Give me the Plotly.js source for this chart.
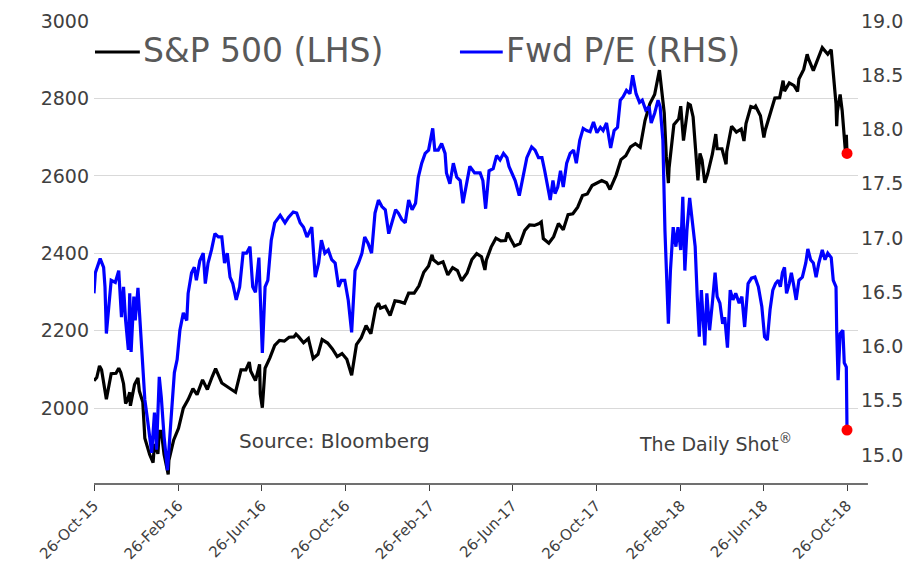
<!DOCTYPE html>
<html>
<head>
<meta charset="utf-8">
<script src="https://cdn.plot.ly/plotly-3.0.1.min.js"></script>
<style>
html,body{margin:0;padding:0;background:#fff;}
#chart{width:917px;height:562px;}
</style>
</head>
<body>
<div id="chart"></div>
<script>
// ---------- DATA ----------
const spxDates = [
"2015-10-26","2015-10-30","2015-11-03","2015-11-06","2015-11-13","2015-11-20","2015-11-27","2015-12-01","2015-12-04","2015-12-08","2015-12-11","2015-12-14","2015-12-17","2015-12-18","2015-12-24","2015-12-29","2015-12-31",
"2016-01-05","2016-01-08","2016-01-15","2016-01-20","2016-01-22","2016-01-27","2016-01-29","2016-02-01","2016-02-05","2016-02-11","2016-02-12","2016-02-19","2016-02-26","2016-03-04","2016-03-11","2016-03-18","2016-03-24","2016-04-01","2016-04-08","2016-04-15","2016-04-20","2016-04-29","2016-05-06","2016-05-13","2016-05-19","2016-05-27","2016-06-03","2016-06-08","2016-06-10","2016-06-17","2016-06-23","2016-06-24","2016-06-27","2016-07-01","2016-07-08","2016-07-15","2016-07-22","2016-07-29","2016-08-05","2016-08-12","2016-08-15","2016-08-19","2016-08-26","2016-09-02","2016-09-09","2016-09-16","2016-09-22","2016-09-30","2016-10-07","2016-10-14","2016-10-21","2016-10-28","2016-11-04","2016-11-11","2016-11-18","2016-11-25","2016-12-02","2016-12-09","2016-12-13","2016-12-16","2016-12-23","2016-12-30",
"2017-01-06","2017-01-13","2017-01-20","2017-01-26","2017-02-03","2017-02-10","2017-02-17","2017-02-24","2017-03-01","2017-03-03","2017-03-10","2017-03-17","2017-03-24","2017-03-31","2017-04-07","2017-04-13","2017-04-21","2017-04-28","2017-05-05","2017-05-12","2017-05-17","2017-05-19","2017-05-26","2017-06-02","2017-06-09","2017-06-16","2017-06-19","2017-06-23","2017-06-29","2017-07-07","2017-07-14","2017-07-21","2017-07-28","2017-08-04","2017-08-07","2017-08-10","2017-08-18","2017-08-25","2017-09-01","2017-09-08","2017-09-15","2017-09-22","2017-09-29","2017-10-06","2017-10-13","2017-10-20","2017-10-27","2017-11-03","2017-11-10","2017-11-15","2017-11-24","2017-12-01","2017-12-08","2017-12-15","2017-12-22","2017-12-29",
"2018-01-05","2018-01-12","2018-01-19","2018-01-26","2018-02-02","2018-02-05","2018-02-08","2018-02-09","2018-02-16","2018-02-23","2018-02-26","2018-03-02","2018-03-09","2018-03-12","2018-03-16","2018-03-23","2018-03-26","2018-03-29","2018-04-02","2018-04-06","2018-04-13","2018-04-18","2018-04-20","2018-04-27","2018-05-03","2018-05-04","2018-05-11","2018-05-18","2018-05-25","2018-05-29","2018-06-01","2018-06-08","2018-06-13","2018-06-15","2018-06-22","2018-06-27","2018-06-29","2018-07-06","2018-07-13","2018-07-20","2018-07-25","2018-07-27","2018-08-03","2018-08-10","2018-08-15","2018-08-17","2018-08-24","2018-08-29","2018-08-31","2018-09-07","2018-09-14","2018-09-20","2018-09-28","2018-10-03","2018-10-05","2018-10-10","2018-10-11","2018-10-12","2018-10-16","2018-10-19","2018-10-24","2018-10-25","2018-10-26"];
const spxValues = [
2071,2079,2109,2099,2023,2089,2090,2103,2092,2063,2012,2022,2041,2006,2061,2078,2044,
2016,1922,1880,1859,1907,1882,1940,1940,1880,1829,1865,1918,1948,2000,2022,2050,2035,2073,2048,2081,2102,2065,2057,2047,2041,2099,2099,2119,2096,2071,2113,2037,2001,2103,2130,2162,2175,2173,2183,2184,2191,2184,2169,2180,2128,2139,2177,2168,2153,2133,2141,2126,2085,2164,2182,2213,2192,2259,2271,2258,2263,2239,
2277,2275,2271,2297,2297,2316,2351,2367,2396,2383,2373,2378,2344,2363,2355,2329,2349,2384,2399,2391,2357,2382,2416,2439,2432,2433,2453,2438,2419,2425,2459,2473,2472,2477,2481,2438,2426,2443,2477,2461,2500,2502,2519,2549,2553,2575,2581,2588,2582,2565,2602,2642,2652,2675,2683,2674,
2743,2786,2810,2873,2762,2649,2581,2620,2732,2747,2780,2691,2786,2783,2752,2588,2658,2641,2582,2604,2656,2708,2670,2670,2630,2663,2728,2713,2721,2690,2735,2779,2776,2780,2755,2699,2718,2760,2801,2802,2846,2819,2840,2833,2818,2850,2875,2914,2902,2872,2905,2931,2914,2926,2886,2786,2728,2767,2810,2768,2656,2706,2658];

const peDates = [
"2015-10-26","2015-10-28","2015-11-04","2015-11-09","2015-11-11","2015-11-13","2015-11-17","2015-11-20","2015-11-26","2015-12-01","2015-12-05","2015-12-08","2015-12-11","2015-12-15","2015-12-17","2015-12-19","2015-12-23","2015-12-25","2015-12-29",
"2016-01-03","2016-01-08","2016-01-12","2016-01-18","2016-01-22","2016-01-25","2016-01-29","2016-02-01","2016-02-05","2016-02-10","2016-02-15","2016-02-20","2016-02-24","2016-02-28","2016-03-04","2016-03-09","2016-03-11","2016-03-16","2016-03-20","2016-03-23","2016-03-28","2016-04-02","2016-04-05","2016-04-09","2016-04-14","2016-04-19","2016-04-24","2016-04-29","2016-05-03","2016-05-07","2016-05-11","2016-05-15","2016-05-20","2016-05-25","2016-05-30","2016-06-04","2016-06-09","2016-06-13","2016-06-17","2016-06-22","2016-06-27","2016-07-01","2016-07-05","2016-07-10","2016-07-15","2016-07-23","2016-07-30","2016-08-04","2016-08-11","2016-08-16","2016-08-21","2016-08-26","2016-08-31","2016-09-07","2016-09-12","2016-09-17","2016-09-21","2016-09-26","2016-10-01","2016-10-06","2016-10-11","2016-10-16","2016-10-20","2016-10-25","2016-10-30","2016-11-04","2016-11-09","2016-11-14","2016-11-19","2016-11-23","2016-11-28","2016-12-03","2016-12-08","2016-12-13","2016-12-18","2016-12-23","2016-12-28",
"2017-01-02","2017-01-07","2017-01-11","2017-01-16","2017-01-21","2017-01-26","2017-01-31","2017-02-05","2017-02-09","2017-02-14","2017-02-19","2017-02-24","2017-03-02","2017-03-05","2017-03-10","2017-03-15","2017-03-20","2017-03-22","2017-03-27","2017-04-01","2017-04-06","2017-04-11","2017-04-15","2017-04-19","2017-04-25","2017-05-02","2017-05-10","2017-05-14","2017-05-18","2017-05-23","2017-05-29","2017-06-03","2017-06-08","2017-06-13","2017-06-18","2017-06-21","2017-06-25","2017-06-30","2017-07-06","2017-07-12","2017-07-17","2017-07-24","2017-07-29","2017-08-03","2017-08-08","2017-08-12","2017-08-16","2017-08-20","2017-08-24","2017-08-27","2017-08-31","2017-09-04","2017-09-08","2017-09-13","2017-09-18","2017-09-23","2017-09-27","2017-10-02","2017-10-07","2017-10-12","2017-10-17","2017-10-22","2017-10-27","2017-11-01","2017-11-05","2017-11-10","2017-11-16","2017-11-21","2017-11-26","2017-11-30","2017-12-04","2017-12-09","2017-12-14","2017-12-18","2017-12-23","2017-12-28",
"2018-01-01","2018-01-06","2018-01-11","2018-01-14","2018-01-19","2018-01-24","2018-01-27","2018-01-31","2018-02-03","2018-02-08","2018-02-11","2018-02-15","2018-02-19","2018-02-22","2018-02-26","2018-03-01","2018-03-04","2018-03-07","2018-03-11","2018-03-14","2018-03-19","2018-03-22","2018-03-25","2018-03-28","2018-03-31","2018-04-02","2018-04-05","2018-04-09","2018-04-13","2018-04-17","2018-04-20","2018-04-24","2018-04-28","2018-05-01","2018-05-05","2018-05-09","2018-05-13","2018-05-17","2018-05-22","2018-05-26","2018-05-30","2018-06-04","2018-06-09","2018-06-14","2018-06-19","2018-06-24","2018-06-28","2018-07-02","2018-07-06","2018-07-10","2018-07-14","2018-07-18","2018-07-21","2018-07-24","2018-07-27","2018-07-30","2018-08-03","2018-08-06","2018-08-09","2018-08-13","2018-08-17","2018-08-22","2018-08-27","2018-08-30","2018-09-03","2018-09-07","2018-09-11","2018-09-15","2018-09-20","2018-09-24","2018-09-28","2018-10-03","2018-10-06","2018-10-10","2018-10-11","2018-10-13","2018-10-16","2018-10-20","2018-10-22","2018-10-25","2018-10-26"];
const peValues = [
16.49,16.68,16.81,16.73,16.55,16.12,16.40,16.61,16.59,16.70,16.27,16.55,16.24,15.97,16.49,15.95,16.46,16.24,16.54,
16.06,15.51,15.32,15.02,15.39,15.05,15.72,15.53,15.17,14.86,15.32,15.76,15.88,16.15,16.31,16.24,16.49,16.68,16.73,16.61,16.79,16.86,16.58,16.77,16.89,17.04,17.01,17.01,16.77,16.86,16.64,16.58,16.43,16.55,16.86,16.86,16.92,16.55,16.50,16.82,15.94,16.55,16.61,16.98,17.14,17.21,17.14,17.19,17.24,17.23,17.14,17.10,17.01,17.10,16.64,16.77,16.98,16.86,16.89,16.80,16.77,16.55,16.61,16.61,16.43,16.13,16.70,16.77,16.86,17.01,16.95,16.86,17.23,17.35,17.29,17.26,17.04,
17.14,17.26,17.23,17.17,17.14,17.35,17.26,17.32,17.56,17.69,17.78,17.81,18.01,17.81,17.81,17.87,17.78,17.60,17.50,17.69,17.56,17.53,17.32,17.47,17.66,17.60,17.60,17.53,17.27,17.62,17.64,17.76,17.72,17.78,17.74,17.66,17.60,17.53,17.39,17.60,17.74,17.84,17.81,17.74,17.74,17.62,17.47,17.35,17.53,17.41,17.47,17.62,17.47,17.69,17.78,17.81,17.69,17.90,18.01,17.99,17.98,18.07,17.97,18.02,17.99,18.06,17.83,17.99,18.02,18.27,18.30,18.36,18.33,18.50,18.33,18.25,
18.27,18.18,18.21,18.06,18.15,18.27,18.21,17.90,17.07,16.21,16.70,17.10,16.92,17.10,16.89,17.38,16.70,17.07,17.37,17.19,16.92,16.46,16.09,16.52,16.15,16.01,16.49,16.15,16.40,16.68,16.46,16.40,16.21,16.27,15.99,16.52,16.43,16.49,16.40,16.46,16.18,16.58,16.63,16.64,16.55,16.37,16.09,16.06,16.34,16.52,16.58,16.61,16.55,16.68,16.73,16.49,16.58,16.68,16.58,16.43,16.61,16.64,16.77,16.90,16.80,16.77,16.64,16.77,16.89,16.80,16.86,16.82,16.61,16.55,16.15,15.69,16.12,16.15,15.85,15.81,15.23];

const tickDates = ["2015-10-26","2016-02-26","2016-06-26","2016-10-26","2017-02-26","2017-06-26","2017-10-26","2018-02-26","2018-06-26","2018-10-26"];
const tickLabels = ["26-Oct-15","26-Feb-16","26-Jun-16","26-Oct-16","26-Feb-17","26-Jun-17","26-Oct-17","26-Feb-18","26-Jun-18","26-Oct-18"];
const leftTicks = [2000,2200,2400,2600,2800,3000];
const rightTicks = [15.0,15.5,16.0,16.5,17.0,17.5,18.0,18.5,19.0];
const seriesNames = ["S&P 500 (LHS)","Fwd P/E (RHS)"];
const seriesColors = ["#000000","#0000FF"];

// ---------- CHART ----------
const FONT = "DejaVu Sans, Verdana, sans-serif";
const last = a => a[a.length-1];

const traces = [
  {x: spxDates, y: spxValues, name: seriesNames[0], type: "scatter", mode: "lines",
   line: {color: seriesColors[0], width: 3.2}, yaxis: "y"},
  {x: peDates, y: peValues, name: seriesNames[1], type: "scatter", mode: "lines",
   line: {color: seriesColors[1], width: 3.2}, yaxis: "y2"},
  {x: [last(spxDates)], y: [last(spxValues)], type: "scatter", mode: "markers",
   marker: {color: "#FF0000", size: 11}, showlegend: false, yaxis: "y", hoverinfo: "skip"},
  {x: [last(peDates)], y: [last(peValues)], type: "scatter", mode: "markers",
   marker: {color: "#FF0000", size: 11}, showlegend: false, yaxis: "y2", hoverinfo: "skip"}
];

// legend drawn by hand (one row, as in the reference)
const legY = 0.933;
const legItems = [
  {x0: 0.0013, x1: 0.060, tx: 0.062},
  {x0: 0.479, x1: 0.535, tx: 0.537}
];
const legShapes = legItems.map((it, i) => ({
  type: "line", xref: "paper", yref: "paper", x0: it.x0, x1: it.x1, y0: legY, y1: legY,
  line: {color: seriesColors[i], width: 3}
}));
const legTexts = legItems.map((it, i) => ({
  text: seriesNames[i], xref: "paper", yref: "paper", x: it.tx, y: legY + 0.004,
  xanchor: "left", yanchor: "middle", showarrow: false,
  font: {family: FONT, size: 33, color: "#595959"}
}));

const layout = {
  width: 917, height: 562,
  margin: {l: 94, r: 59, t: 21, b: 78},
  paper_bgcolor: "#ffffff", plot_bgcolor: "#ffffff",
  font: {family: FONT, color: "#404040"},
  showlegend: false,
  xaxis: {type: "date", range: ["2015-10-26", "2018-11-11"],
          tickvals: tickDates, ticktext: tickLabels, tickangle: -45,
          tickfont: {family: FONT, size: 15, color: "#404040"},
          ticks: "outside", ticklen: 6, tickcolor: "#404040", tickwidth: 1,
          showgrid: false, zeroline: false, showline: false, fixedrange: true},
  yaxis: {range: [1804, 3000], tickvals: leftTicks,
          tickfont: {family: FONT, size: 19, color: "#404040"},
          showgrid: true, gridcolor: "#d9d9d9", gridwidth: 1,
          zeroline: false, showline: false, ticks: "", ticklabelstandoff: 4},
  yaxis2: {range: [14.733, 19.0], tickvals: rightTicks, tickformat: ".1f",
           overlaying: "y", side: "right",
           tickfont: {family: FONT, size: 19, color: "#404040"},
           showgrid: false, zeroline: false, showline: false, ticks: "", ticklabelstandoff: 2},
  shapes: [
    {type: "line", xref: "paper", yref: "paper", x0: 0, x1: 1.013, y0: 0, y1: 0,
     line: {color: "#404040", width: 1.3}}
  ].concat(legShapes),
  annotations: [
    {text: "Source: Bloomberg", xref: "paper", yref: "paper", x: 0.187, y: 0.093,
     xanchor: "left", yanchor: "middle", showarrow: false,
     font: {family: FONT, size: 20, color: "#404040"}},
    {text: "The Daily Shot<sup>®</sup>", xref: "paper", yref: "paper", x: 0.711, y: 0.088,
     xanchor: "left", yanchor: "middle", showarrow: false,
     font: {family: FONT, size: 19, color: "#404040"}}
  ].concat(legTexts)
};

Plotly.newPlot("chart", traces, layout, {displayModeBar: false, staticPlot: true});
</script>
</body>
</html>
